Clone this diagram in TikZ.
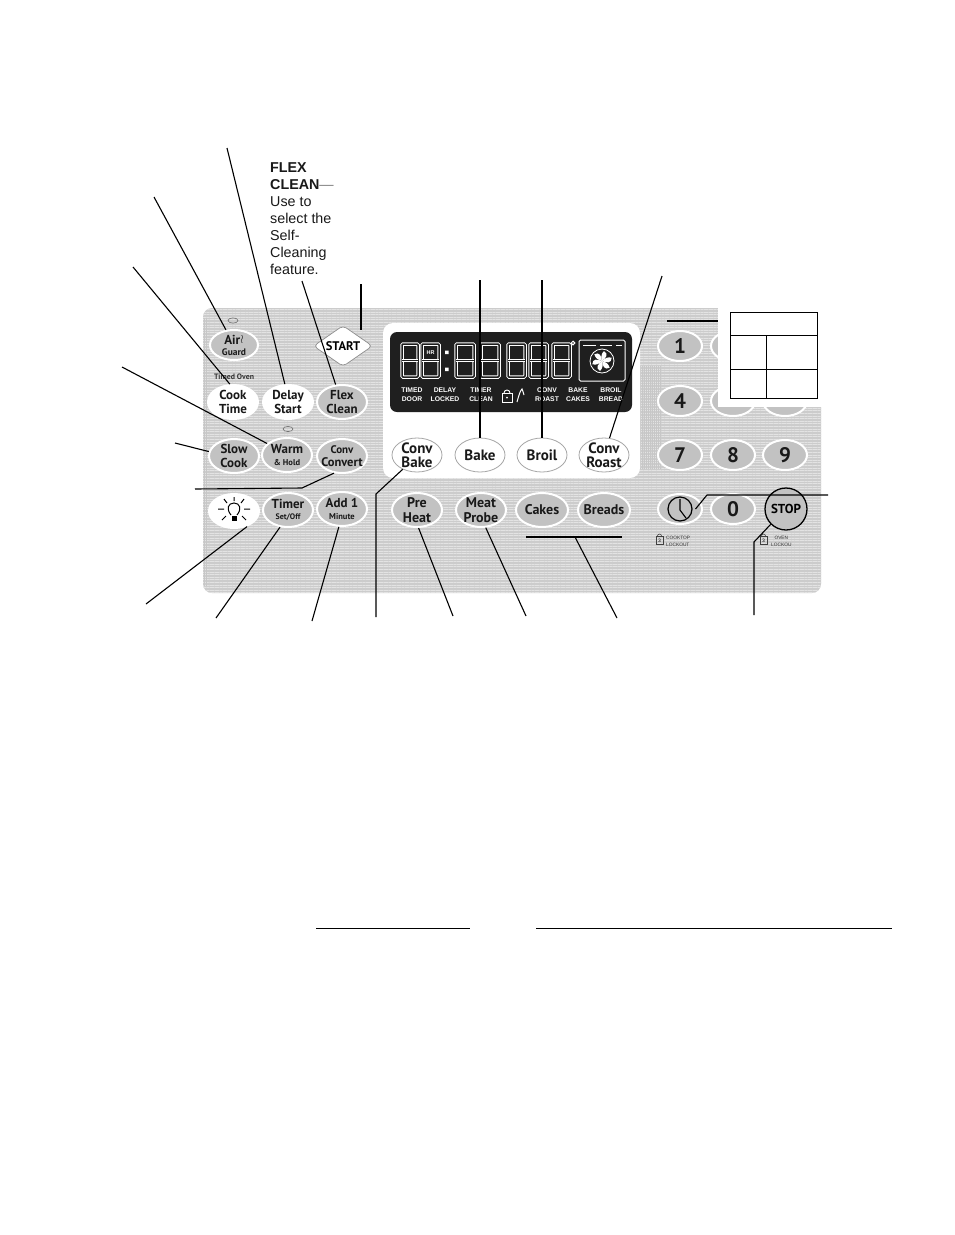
\documentclass[tikz,border=0pt]{standalone}
\usepackage{fontspec}
\setmainfont{Liberation Sans}
\newfontfamily\btnfont{PT Sans}
\usetikzlibrary{shapes.geometric,patterns.meta}
\definecolor{panelgray}{gray}{0.80}
\definecolor{ovalgray}{gray}{0.76}
\tikzset{
  conn/.style={draw=black,line width=1.1pt},
  grille/.style={postaction={pattern={Lines[angle=0,distance=2.6pt,line width=0.7pt]},pattern color=white!45!panelgray}},
  vgrille/.style={pattern={Lines[angle=90,distance=2pt,line width=0.7pt]},pattern color=black!22},
  btn/.style={ellipse,draw=white,line width=2pt,fill=ovalgray,inner sep=-5pt,
    minimum width=50pt,minimum height=34pt,align=center,text=black!90,
    font=\btnfont\bfseries\fontsize{13}{13.5}\selectfont},
  whitebtn/.style={btn,fill=white,draw=white},
  winbtn/.style={btn,fill=white,draw=black!35,line width=.8pt,font=\btnfont\bfseries\fontsize{15}{14.5}\selectfont},
  keybtn/.style={btn,minimum width=44pt,minimum height=30pt,font=\btnfont\bfseries\fontsize{21}{21}\selectfont},
  disp/.style={text=white,inner sep=0pt,font=\bfseries\fontsize{6.8}{9}\selectfont,align=center},
  tiny/.style={inner sep=0pt,align=left,text=black!80,font=\fontsize{4.8}{6.6}\selectfont},
  digitseg/.style={draw=white,double=black!88,double distance=1.5pt,line width=1pt,rounded corners=1pt},
}
\begin{document}
\begin{tikzpicture}[x=1pt,y=-1pt]
\useasboundingbox (0,0) rectangle (954,1235);
\fill[white] (0,0) rectangle (954,1235);

% panel
\path[fill=panelgray,grille,rounded corners=9pt] (203,308) rectangle (821,593);
\path[vgrille] (204,318) rectangle (208,585);
\path[vgrille] (638,366) rectangle (661,468);
% display window
\fill[white,rounded corners=10pt] (383,323) rectangle (640,478);
\fill[black!88,rounded corners=7pt] (390,332) rectangle (632,412);

% digits
\foreach \x/\w in {402/16,422/17,456/18,481/18,508/17,530/17,553/17}{
  \draw[digitseg] (\x,344) rectangle ++(\w,33);
  \draw[digitseg] (\x,360.5) -- ++(\w,0);
}
\node[text=white,fill=black!88,inner sep=.5pt,font=\bfseries\fontsize{5.5}{5.5}\selectfont] (hr) at (430.5,353) {HR};
\fill[white] (445,350.5) rectangle ++(3.5,3.5) (445,367.5) rectangle ++(3.5,3.5);
\draw[white,line width=1pt] (573,343) circle (1.8);
\node[draw=white,line width=1pt,rounded corners=1.5pt,minimum width=46pt,minimum height=41pt,inner sep=0pt] (ovenicon) at (602,360.5) {};
\draw[white,line width=.8pt] (602,361) circle (12);
\foreach \a in {0,60,...,300}{
  \fill[white,rotate around={\a:(602,361)}] (602,361) .. controls (606,358) and (609,354) .. (604,351) .. controls (601,354) and (601,357) .. (602,361);
}
\draw[white,line width=.7pt] (583,345) -- (596,345) (600,345) -- (612,345) (616,345) -- (622,345);
\node[disp] (l1) at (412,394.5) {TIMED\\DOOR};
\node[disp] (l2) at (445,394.5) {DELAY\\LOCKED};
\node[disp] (l3) at (481,394.5) {TIMER\\CLEAN};
\node[disp] (l4) at (547,394.5) {CONV\\ROAST};
\node[disp] (l5) at (578,394.5) {BAKE\\CAKES};
\node[disp] (l6) at (611,394.5) {BROIL\\BREAD};
\draw[white,line width=.9pt] (502,393) rectangle ++(10,9);
\draw[white,line width=.9pt] (504,393) arc (180:360:3);
\fill[white] (507,397.5) circle (1);
\draw[white,line width=1pt] (517,402) .. controls (519,395) and (520,391) .. (522,389) .. controls (523,391) and (523,392) .. (524,395);

% LEDs
\draw[black!55,line width=.6pt] (233,320.5) ellipse (5 and 2.6);
\draw[black!55,line width=.6pt] (288,429) ellipse (5 and 2.6);

% left buttons
\node[btn,minimum width=48pt,minimum height=30pt] (air) at (234,345) {Air\raisebox{2pt}{$\wr$}\\[-2pt]{\fontsize{9.5}{9}\selectfont Guard}};
\node[font=\btnfont\bfseries\fontsize{7.8}{8}\selectfont,inner sep=0pt,text=black!80] (timedoven) at (234,377) {Timed Oven};
\node[whitebtn] (cook) at (233,402) {Cook\\Time};
\node[whitebtn] (delay) at (288,402) {Delay\\Start};
\node[btn] (flex) at (342,402) {Flex\\Clean};
\node[btn] (slow) at (234,456) {Slow\\Cook};
\node[btn] (warm) at (287,455) {Warm\\[-2pt]{\fontsize{8.5}{8.5}\selectfont \& Hold}};
\node[btn] (convert) at (342,456) {{\fontsize{11}{11}\selectfont Conv}\\{\fontsize{12.5}{13}\selectfont Convert}};
\node[whitebtn] (light) at (234,511) {};
\node[btn] (timer) at (288,510) {Timer\\[-2pt]{\fontsize{8}{8}\selectfont Set/Off}};
\node[btn] (add) at (342,509) {Add 1\\[-2pt]{\fontsize{8.5}{8.5}\selectfont Minute}};
% light bulb
\draw[black,line width=1pt] (231,515) .. controls (226,509) and (228,503) .. (234,503) .. controls (240,503) and (242,509) .. (237,515);
\fill[black] (231.5,515.5) rectangle (236.5,521);
\draw[black,line width=1pt] (244,509) -- (250,509) (218,509) -- (224,509) (234,497) -- (234,501) (224,499) -- (227,503) (244,499) -- (241,503) (226,516) -- (222,520) (242,516) -- (246,520);

% START diamond
\node[diamond,aspect=1.45,fill=white,draw=black!45,line width=.7pt,inner sep=-3pt,minimum width=59pt,minimum height=41pt,rounded corners=4pt,font=\btnfont\bfseries\fontsize{12.5}{13}\selectfont] (start) at (343,346) {START};

% window buttons
\node[winbtn] (convbake) at (417,455) {Conv\\Bake};
\node[winbtn] (bake) at (480,455) {Bake};
\node[winbtn] (broil) at (542,455) {Broil};
\node[winbtn] (convroast) at (604,455) {Conv\\Roast};
% lower row
\node[btn,font=\btnfont\bfseries\fontsize{14}{14.5}\selectfont] (preheat) at (417,510) {Pre\\Heat};
\node[btn,font=\btnfont\bfseries\fontsize{14}{14.5}\selectfont] (meat) at (481,510) {Meat\\Probe};
\node[btn,minimum width=52pt,font=\btnfont\bfseries\fontsize{14}{14}\selectfont] (cakes) at (542,510) {Cakes};
\node[btn,minimum width=52pt,font=\btnfont\bfseries\fontsize{14}{14}\selectfont] (breads) at (604,510) {Breads};

% keypad
\node[keybtn] (k1) at (680,346) {1};
\node[keybtn] (k2) at (733,346) {};
\node[keybtn] (k4) at (680,401) {4};
\node[keybtn] (k5) at (733,401) {};
\node[keybtn] (k6) at (785,401) {};
\node[keybtn] (k7) at (680,455) {7};
\node[keybtn] (k8) at (733,455) {8};
\node[keybtn] (k9) at (785,455) {9};
\node[keybtn] (clock) at (680,509) {};
\node[keybtn] (k0) at (733,509) {0};
\node[circle,draw=black,line width=1.3pt,fill=ovalgray,minimum size=42pt,inner sep=0pt,font=\btnfont\bfseries\fontsize{13}{13}\selectfont] (stop) at (786,509) {STOP};
\node[circle,draw=black,line width=1.2pt,minimum size=24pt,inner sep=0pt,outer sep=3.5pt] (clockface) at (680,509) {};
\draw[black,line width=1.1pt] (680,499) -- (680,510) -- (686,518);
% locks
\draw[black!75,line width=.6pt] (656,536) rectangle ++(7,8);
\draw[black!75,line width=.6pt] (657.5,536) arc (180:360:2);
\node[inner sep=0pt,font=\fontsize{5}{5}\selectfont] (lk1) at (659.5,540.5) {3};
\node[tiny,anchor=west] (cooktop) at (666,541.5) {COOKTOP\\LOCKOUT};
\draw[black!75,line width=.6pt] (760,536) rectangle ++(7,8);
\draw[black!75,line width=.6pt] (761.5,536) arc (180:360:2);
\node[inner sep=0pt,font=\fontsize{5}{5}\selectfont] (lk2) at (763.5,540.5) {3};
\node[tiny,anchor=west,align=center] (ovenl) at (771,541.5) {OVEN\\LOCKOU};

% white mask and table
\fill[white] (718,285) rectangle (860,407);
\draw[black,line width=1pt] (730,312) rectangle (817,398);
\draw[black,line width=1pt] (730,335) -- (817,335) (730,369) -- (817,369) (766,335) -- (766,398);

% free ends
\coordinate (fDelay) at (227,148);
\coordinate (fAir) at (154,197);
\coordinate (fCook) at (133,267);
\coordinate (fWarm) at (122,367);
\coordinate (fSlow) at (175,443);
\coordinate (fConvert) at (195,489);
\coordinate (bConvert) at (302,488);
\coordinate (fLight) at (146,604);
\coordinate (fTimer) at (216,618);
\coordinate (fAdd) at (312,621);
\coordinate (fConvBake) at (376,617);
\coordinate (bConvBake) at (376,494);
\coordinate (fPre) at (453,616);
\coordinate (fMeat) at (526,616);
\coordinate (fCakes) at (617,618);
\coordinate (bCakes) at (575,537);
\coordinate (cakesL) at (526,537);
\coordinate (cakesR) at (622,537);
\coordinate (fStop) at (754,615);
\coordinate (bStop) at (754,542);
\coordinate (fClock) at (828,495);
\coordinate (bClock) at (707,495);
\coordinate (fBake) at (480,280);
\coordinate (fBroil) at (542,280);
\coordinate (fRoast) at (662,276);
\coordinate (fStart) at (361,284);
\coordinate (fFlex) at (302,281);
\coordinate (keyL) at (667,321);
\coordinate (keyR) at (718,321);
\coordinate (noteL1) at (316,928);
\coordinate (noteR1) at (470,928);
\coordinate (noteL2) at (536,928);
\coordinate (noteR2) at (892,928);

% connectors
\draw[conn] (fDelay) -- (delay.100);
\draw[conn] (fAir) -- (air.118);
\draw[conn] (fCook) -- (cook.100);
\draw[conn] (fWarm) -- (warm.150);
\draw[conn] (fSlow) -- (slow.170);
\draw[conn] (fConvert) -- (bConvert) -- (convert.245);
\draw[conn] (fLight) -- (light.-50);
\draw[conn] (fTimer) -- (timer.-115);
\draw[conn] (fAdd) -- (add.-100);
\draw[conn] (fConvBake) -- (bConvBake) -- (convbake.-135);
\draw[conn] (fPre) -- (preheat.-85);
\draw[conn] (fMeat) -- (meat.-75);
\draw[conn] (cakesL) -- (cakesR);
\draw[conn] (bCakes) -- (fCakes);
\draw[conn] (fStop) -- (bStop) -- (stop.-135);
\draw[conn] (fClock) -- (bClock) -- (clockface.east);
\draw[conn] (fBake) -- (bake.north);
\draw[conn] (fBroil) -- (broil.north);
\draw[conn] (fRoast) -- (convroast.72);
\draw[conn,shorten >=6pt] (fStart) -- (fStart |- start.north east);
\draw[conn] (fFlex) -- (flex.110);
\draw[conn] (keyL) -- (keyR);
\draw[conn,line width=.9pt] (noteL1) -- (noteR1);
\draw[conn,line width=.9pt] (noteL2) -- (noteR2);

% Flex Clean note
\node[anchor=north west,inner sep=0pt,align=left,font=\fontsize{14.3}{17}\selectfont,text=black!90] (flexnote) at (270,162.5) {\textbf{FLEX}\\\textbf{CLEAN}{\color{black!50}—}\\Use to\\select the\\Self-\\Cleaning\\feature.};
\end{tikzpicture}
\end{document}
